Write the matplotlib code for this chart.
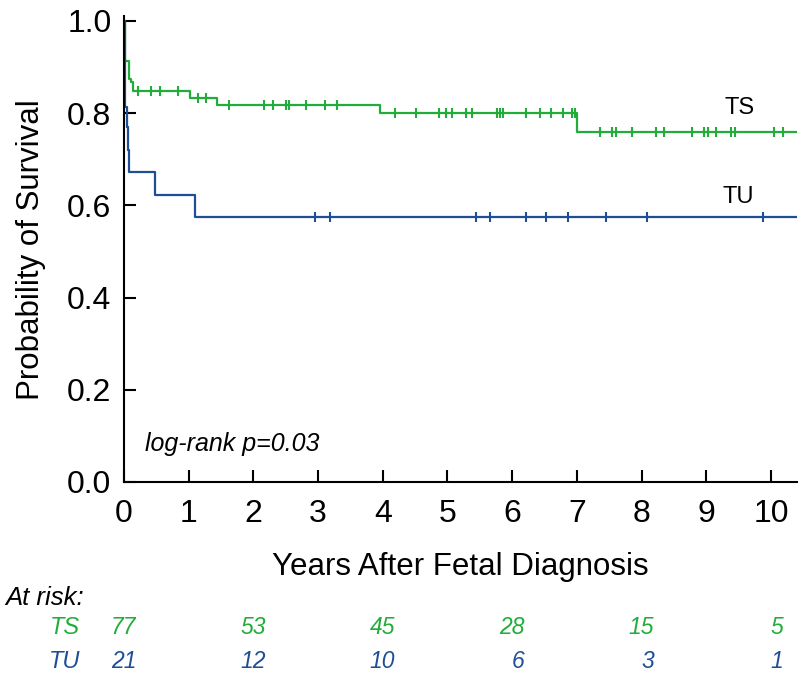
import numpy as np
import matplotlib
matplotlib.use("Agg")
import matplotlib.pyplot as plt
import matplotlib.transforms as mtransforms

# Шаги кривых Каплана-Мейера (годы, вероятность выживания)
ts_times = [0, 0.01, 0.077, 0.108, 0.134, 1.02, 1.43, 3.96, 7.0]
ts_surv = [1.0, 0.914, 0.874, 0.867, 0.849, 0.833, 0.817, 0.800, 0.759]

tu_times = [0, 0.01, 0.04, 0.067, 0.08, 0.48, 1.09]
tu_surv = [1.0, 0.814, 0.769, 0.720, 0.673, 0.623, 0.574]

# Цензурированные наблюдения, годы
ts_censor = [0.21, 0.41, 0.56, 0.83, 1.15, 1.26, 1.62, 2.16, 2.31, 2.50, 2.55,
             2.82, 3.10, 3.29, 4.19, 4.51, 4.87, 4.97, 5.07, 5.28, 5.38, 5.76,
             5.81, 5.86, 6.21, 6.43, 6.60, 6.78, 6.92, 6.97, 7.36, 7.54, 7.61,
             7.86, 8.22, 8.34, 8.78, 8.97, 9.02, 9.15, 9.38, 9.44, 10.04, 10.18]
tu_censor = [2.96, 3.18, 5.44, 5.66, 6.21, 6.52, 6.87, 7.45, 8.09, 9.88]

# Число пациентов под риском
risk_years = [0, 2, 4, 6, 8, 10]
ts_risk = [77, 53, 45, 28, 15, 5]
tu_risk = [21, 12, 10, 6, 3, 1]

x_max = 10.4

green = '#22AD3A'
blue = '#1F4E98'

plt.rcParams['font.family'] = ['Liberation Sans', 'DejaVu Sans']

fig = plt.figure(figsize=(8, 6.8), dpi=100)
ax = fig.add_axes([0.155, 0.2912, 0.841, 0.6847])


def surv_at(times, surv, t):
    idx = np.searchsorted(times, t, side='right') - 1
    return np.array(surv)[idx]


for times, surv, cens, col in [(ts_times, ts_surv, ts_censor, green),
                               (tu_times, tu_surv, tu_censor, blue)]:
    xs = list(times) + [x_max]
    ys = list(surv) + [surv[-1]]
    ax.step(xs, ys, where='post', color=col, linewidth=1.6)
    ax.plot(cens, surv_at(times, surv, cens), linestyle='none', marker='|',
            markersize=7, markeredgewidth=1.5, color=col)

# Оси
ax.set_xlim(0, x_max)
ax.set_ylim(0, 1.01)
ax.set_xticks(range(0, 11))
ax.set_yticks([0, 0.2, 0.4, 0.6, 0.8, 1.0])
ax.set_yticklabels(['0.0', '0.2', '0.4', '0.6', '0.8', '1.0'])
ax.spines['top'].set_visible(False)
ax.spines['right'].set_visible(False)
ax.spines['left'].set_linewidth(1.5)
ax.spines['bottom'].set_linewidth(1.5)
ax.tick_params(direction='in', length=8.5, width=1.5, labelsize=23)
ax.tick_params(axis='x', pad=12)
ax.tick_params(axis='y', pad=9)
ax.set_xlabel('Years After Fetal Diagnosis', fontsize=22.5, labelpad=17)
ax.set_ylabel('Probability of Survival', fontsize=22.5, labelpad=15)

# Подписи
ax.text(9.52, 0.812, 'TS', fontsize=17, ha='center', va='center')
ax.text(9.5, 0.618, 'TU', fontsize=17, ha='center', va='center')
ax.text(0.325, 0.082, 'log-rank p=0.03', fontsize=18, style='italic',
        ha='left', va='center')

# Таблица "At risk"
fig.text(0.006, 0.1206, 'At risk:', fontsize=18.5, style='italic',
         ha='left', va='center')
fig.text(0.1, 0.0765, 'TS', fontsize=17, style='italic', color=green,
         ha='right', va='center')
fig.text(0.1, 0.0265, 'TU', fontsize=17, style='italic', color=blue,
         ha='right', va='center')
trans = mtransforms.blended_transform_factory(ax.transData, fig.transFigure)
for yr, a, b in zip(risk_years, ts_risk, tu_risk):
    fig.text(yr + 0.19, 0.0765, str(a), fontsize=16.5, style='italic',
             color=green, ha='right', va='center', transform=trans)
    fig.text(yr + 0.19, 0.0265, str(b), fontsize=16.5, style='italic',
             color=blue, ha='right', va='center', transform=trans)

plt.savefig('out.png', dpi=100)
